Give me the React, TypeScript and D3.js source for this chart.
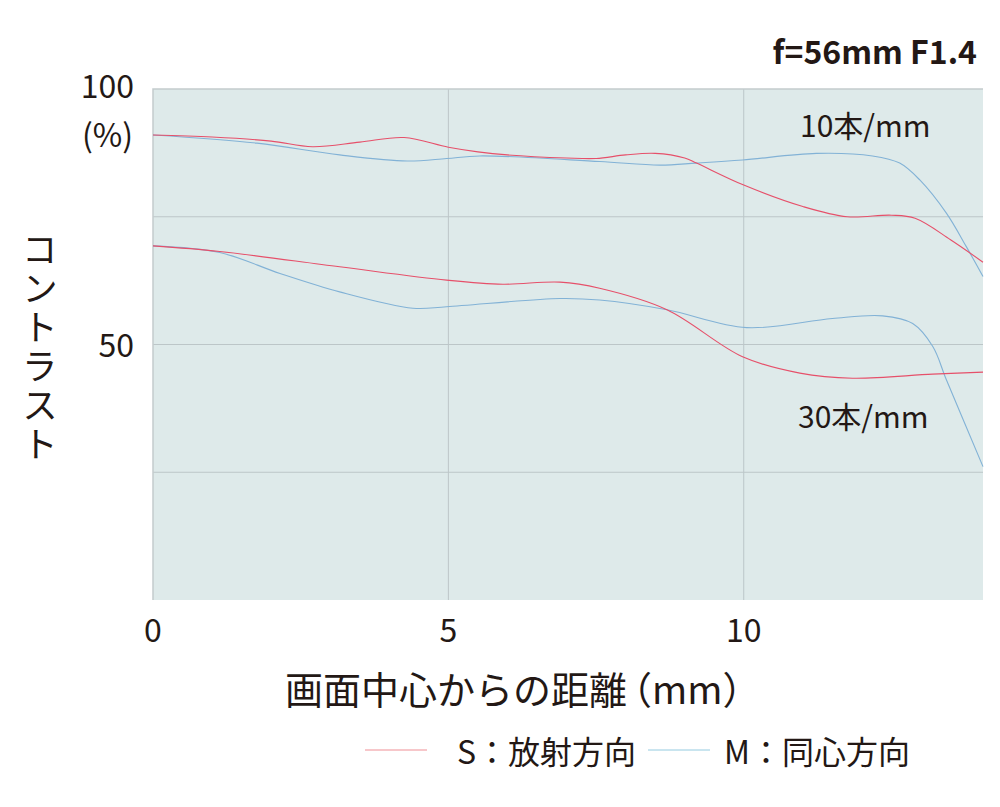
import React, { useRef, useEffect } from 'react';
import * as d3 from 'd3';

// image height (mm from center) and contrast (%)
const s10X = [0, 1, 2, 2.7, 3.5, 4.25, 5, 5.5, 6, 7, 7.5, 8, 8.5, 9, 9.2, 10, 11, 11.75, 12.5, 12.9, 13.5, 14.05];
const s10Y = [91.0, 90.6, 89.8, 88.7, 89.6, 90.5, 88.6, 87.7, 87.1, 86.5, 86.4, 87.1, 87.4, 86.5, 85.5, 81.2, 77.0, 75.0, 75.3, 74.7, 70.5, 66.1];
const m10X = [0, 1.76, 3.16, 4.3, 4.97, 5.53, 7.56, 8.58, 9.2, 9.98, 11.23, 12.18, 12.64, 12.98, 13.43, 13.77, 14.05];
const m10Y = [91.0, 89.4, 87.1, 85.9, 86.4, 86.9, 85.8, 85.1, 85.5, 86.1, 87.4, 86.9, 85.5, 82.2, 75.7, 69.1, 63.3];
const s30X = [0, 1.13, 3.16, 4.97, 5.92, 6.89, 7.56, 8.7, 9.98, 10.95, 11.84, 13.2, 14.05];
const s30Y = [69.3, 68.2, 65.2, 62.6, 61.8, 62.2, 61.0, 56.8, 47.6, 44.4, 43.4, 44.2, 44.6];
const m30X = [0, 1.13, 2.15, 3.16, 4.4, 4.97, 6.89, 7.56, 8.7, 10.05, 11.5, 12.35, 12.86, 13.2, 13.43, 14.05];
const m30Y = [69.3, 68.0, 63.9, 60.3, 57.1, 57.4, 59.0, 58.7, 56.8, 53.3, 55.1, 55.6, 54.1, 49.6, 43.1, 26.1];

const xTicks = [0, 5, 10];
const yGrid = [25, 50, 75];
const yLabels = ['100', '50'];

const RED = '#e6506a';
const BLUE = '#82b2d6';
const INK = '#231815';
const FONT = '"Noto Sans CJK JP", "Noto Sans", sans-serif';

const App = () => {
  const ref = useRef<SVGSVGElement | null>(null);

  useEffect(() => {
    const svg = d3.select(ref.current);
    svg.selectAll('*').remove();

    const left = 153, right = 983, top = 89, bottom = 600;
    const x = d3.scaleLinear().domain([0, 14.05]).range([left, right]);
    const y = d3.scaleLinear().domain([0, 100]).range([bottom, top]);

    // plot background
    svg.append('rect')
      .attr('x', left).attr('y', top)
      .attr('width', right - left).attr('height', bottom - top)
      .attr('fill', '#deeaea');

    // grid
    svg.append('g').selectAll('line').data(xTicks.slice(1)).join('line')
      .attr('x1', d => x(d)).attr('x2', d => x(d))
      .attr('y1', top).attr('y2', bottom)
      .attr('stroke', '#bcc6c8').attr('stroke-width', 1);
    svg.append('g').selectAll('line').data(yGrid).join('line')
      .attr('x1', left).attr('x2', right)
      .attr('y1', d => y(d)).attr('y2', d => y(d))
      .attr('stroke', '#bcc6c8').attr('stroke-width', 1);

    // frame top & left
    svg.append('path')
      .attr('d', `M${left},${bottom}V${top}H${right}`)
      .attr('fill', 'none').attr('stroke', '#c3cbcd').attr('stroke-width', 1.5);

    const line = d3.line<[number, number]>()
      .x(d => x(d[0])).y(d => y(d[1]))
      .curve(d3.curveCatmullRom.alpha(0.5));

    const series = [
      { xs: m10X, ys: m10Y, c: BLUE },
      { xs: m30X, ys: m30Y, c: BLUE },
      { xs: s10X, ys: s10Y, c: RED },
      { xs: s30X, ys: s30Y, c: RED },
    ];
    series.forEach(s => {
      svg.append('path')
        .datum(s.xs.map((v, i) => [v, s.ys[i]] as [number, number]))
        .attr('fill', 'none')
        .attr('stroke', s.c)
        .attr('stroke-width', 1.1)
        .attr('d', line);
    });

    const txt = (t: string, tx: number, ty: number, size: number, anchor = 'start', weight = 'normal') =>
      svg.append('text')
        .attr('x', tx).attr('y', ty)
        .attr('font-family', FONT)
        .attr('font-size', size)
        .attr('font-weight', weight)
        .attr('fill', INK)
        .attr('text-anchor', anchor)
        .text(t);

    // title
    txt('f=56mm F1.4', 977, 64, 32, 'end', 'bold');

    // y labels
    txt(yLabels[0], 134, 98, 32, 'end');
    txt('(%)', 133, 147, 32, 'end');
    txt(yLabels[1], 134, y(50) + 12, 32, 'end');

    // x ticks
    xTicks.forEach(t => txt(String(t), x(t), 642, 32, 'middle'));

    // x axis title
    const xt = svg.append('text')
      .attr('x', 285).attr('y', 704)
      .attr('font-family', FONT).attr('font-size', 38).attr('fill', INK);
    xt.append('tspan').text('画面中心からの距離');
    xt.append('tspan').attr('dx', -13).text('（');
    xt.append('tspan').text('mm');
    xt.append('tspan').attr('dx', 0).text('）');

    // y axis title (vertical)
    svg.append('text')
      .attr('x', 40).attr('y', 231)
      .attr('font-family', FONT).attr('font-size', 36).attr('fill', INK)
      .style('writing-mode', 'vertical-rl')
      .style('text-orientation', 'upright')
      .attr('letter-spacing', 3)
      .text('コントラスト');

    // series labels
    txt('10本/mm', 800, 137, 30);
    txt('30本/mm', 798, 428, 30);

    // legend
    svg.append('line').attr('x1', 365).attr('x2', 427).attr('y1', 750).attr('y2', 750)
      .attr('stroke', '#ef8f95').attr('stroke-width', 1);
    txt('S：放射方向', 457, 764, 32);
    svg.append('line').attr('x1', 648).attr('x2', 710).attr('y1', 750).attr('y2', 750)
      .attr('stroke', '#94cbe0').attr('stroke-width', 1);
    txt('M：同心方向', 724, 764, 32);
  }, []);

  return (
    <svg
      ref={ref}
      width={1000}
      height={807}
      style={{ position: 'absolute', left: 0, top: 0, background: '#fff' }}
    />
  );
};

export default App;
